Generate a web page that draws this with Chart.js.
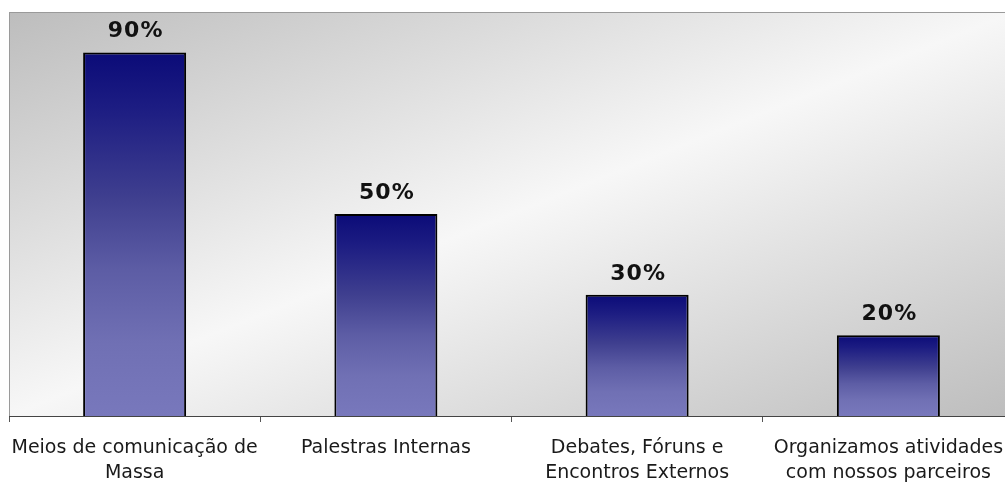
<!DOCTYPE html>
<html>
<head>
<meta charset="utf-8">
<script src="https://cdn.jsdelivr.net/npm/chart.js@4"></script>
<style>
  html, body { margin: 0; padding: 0; background: #fff; overflow: hidden; }
  #wrap { position: relative; width: 1016px; height: 488px; }
</style>
</head>
<body>
<div id="wrap"><canvas id="myChart"></canvas></div>
<script>
/* data */
const categories = [
  ['Meios de comunicação de', 'Massa'],
  ['Palestras Internas'],
  ['Debates, Fóruns e', 'Encontros Externos'],
  ['Organizamos atividades', 'com nossos parceiros'],
];
const values = [90, 50, 30, 20];
const valueLabels = ['90%', '50%', '30%', '20%'];

// gray diagonal background + thin frame
const plotBackground = {
  id: 'plotBackground',
  beforeDraw(chart) {
    const { ctx, chartArea: a } = chart;
    const w = a.right - a.left, h = a.bottom - a.top;
    ctx.save();
    ctx.translate(a.left, a.top);
    ctx.scale(w, h);
    const g = ctx.createLinearGradient(0, 0, 1, 1);
    g.addColorStop(0, '#bdbdbd');
    g.addColorStop(0.5, '#f7f7f7');
    g.addColorStop(1, '#bdbdbd');
    ctx.fillStyle = g;
    ctx.fillRect(0, 0, 1, 1);
    ctx.restore();
    ctx.save();
    ctx.strokeStyle = '#9a9a9a';
    ctx.lineWidth = 1;
    ctx.strokeRect(a.left + 0.5, a.top + 0.5, w, h);
    ctx.restore();
  }
};

// percentage above each bar
const barLabels = {
  id: 'barLabels',
  afterDatasetsDraw(chart) {
    const { ctx } = chart;
    const meta = chart.getDatasetMeta(0);
    ctx.save();
    ctx.font = 'bold 22px "DejaVu Sans"';
    ctx.letterSpacing = '1px';
    ctx.fillStyle = '#111';
    ctx.textAlign = 'center';
    ctx.textBaseline = 'alphabetic';
    meta.data.forEach((bar, i) => {
      ctx.fillText(valueLabels[i], bar.x + 1, bar.y - 15);
    });
    ctx.restore();
  }
};

function barFill(context) {
  const chart = context.chart;
  if (!chart.chartArea) return '#4040a0';
  const y = chart.scales.y;
  const top = y.getPixelForValue(context.raw);
  const bot = y.getPixelForValue(0);
  if (!isFinite(top) || !isFinite(bot)) return '#4040a0';
  const g = chart.ctx.createLinearGradient(0, top, 0, bot);
  g.addColorStop(0, '#0b0b78');
  g.addColorStop(0.15, '#1c1c82');
  g.addColorStop(0.4, '#3f3f8f');
  g.addColorStop(0.6, '#5d5da5');
  g.addColorStop(0.8, '#7070b4');
  g.addColorStop(1, '#7878bc');
  return g;
}

const data = {
  labels: categories,
  datasets: [{
    data: values,
    backgroundColor: barFill,
    borderColor: '#000',
    borderWidth: 2,
    borderSkipped: 'bottom',
    categoryPercentage: 1,
    barPercentage: 0.41,
  }],
};

const chart = new Chart(document.getElementById('myChart'), {
  type: 'bar',
  data,
  plugins: [plotBackground, barLabels],
  options: {
    responsive: true,
    maintainAspectRatio: false,
    animation: false,
    layout: { padding: { left: 9, top: 12, right: 2, bottom: 0 } },
    plugins: { legend: { display: false }, tooltip: { enabled: false } },
    scales: {
      x: {
        offset: true,
        grid: { drawOnChartArea: false, offset: true, tickLength: 6, color: '#555' },
        border: { color: '#444', width: 1 },
        ticks: {
          color: '#1a1a1a',
          padding: 14,
          font: { family: '"DejaVu Sans"', size: 19, lineHeight: 1.3 },
          maxRotation: 0,
          autoSkip: false,
        },
        afterFit(scale) {
          scale.height = 72;
          scale.paddingLeft = 0;
          scale.paddingRight = 0;
        },
      },
      y: { display: false, min: 0, max: 100 },
    },
  },
});
</script>
</body>
</html>
